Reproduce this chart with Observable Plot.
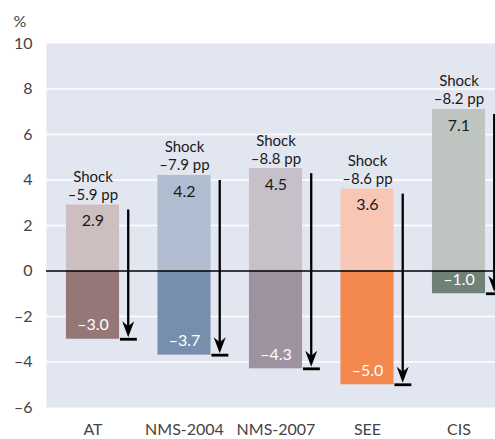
<!DOCTYPE html>
<html><head><meta charset="utf-8">
<script src="https://cdn.jsdelivr.net/npm/d3@7"></script>
<script src="https://cdn.jsdelivr.net/npm/@observablehq/plot@0.6"></script>
<style>body{margin:0;background:#fff;overflow:hidden;}</style>
</head><body><div id="chart"></div>
<script>
const categories = ["AT", "NMS-2004", "NMS-2007", "SEE", "CIS"];
const positiveValues = [2.9, 4.2, 4.5, 3.6, 7.1];
const negativeValues = [-3.0, -3.7, -4.3, -5.0, -1.0];
const shockValues = [-5.9, -7.9, -8.8, -8.6, -8.2];
const positiveColors = ["#cdbfbf", "#b0bdd0", "#c6c0c8", "#f7c6b4", "#bec4c0"];
const negativeColors = ["#957778", "#778fac", "#9d92a0", "#f2884d", "#6e8278"];
const yTicks = [-6, -4, -2, 0, 2, 4, 6, 8, 10];
const gridTicks = [-4, -2, 2, 4, 6, 8];
const unitLabel = "%";

const dash = v => (v < 0 ? "\u2013" + Math.abs(v) : String(v));
const fmt1 = v => (v < 0 ? "\u2013" + Math.abs(v).toFixed(1) : v.toFixed(1));

const data = categories.map((c, i) => ({
  i, c,
  pos: positiveValues[i], neg: negativeValues[i], shock: shockValues[i],
  posColor: positiveColors[i], negColor: negativeColors[i]
}));

const half = 0.29, arrowOff = 0.385;
const font = "Lato, 'Open Sans', sans-serif";

// filled "stealth" arrowhead pointing down, tip at origin
const stealth = {
  draw(context) {
    context.moveTo(0, 0);
    context.lineTo(-6, -16);
    context.lineTo(0, -11);
    context.lineTo(6, -16);
    context.closePath();
  }
};

const chart = Plot.plot({
  width: 495, height: 439,
  marginTop: 43, marginBottom: 32, marginLeft: 46, marginRight: 0,
  style: {fontFamily: font, fontSize: "16px", background: "white", overflow: "hidden"},
  x: {type: "linear", domain: [-0.508, 4.399]},
  y: {domain: [-6, 10]},
  color: {type: "identity"},
  marks: [
    Plot.frame({fill: "#e2e6f1", stroke: null}),
    Plot.ruleY(gridTicks, {stroke: "white", strokeWidth: 1.5}),
    Plot.rectY(data, {x1: d => d.i - half, x2: d => d.i + half, y1: 0, y2: "pos", fill: "posColor"}),
    Plot.rectY(data, {x1: d => d.i - half, x2: d => d.i + half, y1: 0, y2: "neg", fill: "negColor"}),
    Plot.ruleY([0], {stroke: "black", strokeWidth: 1.6}),
    Plot.text(data, {x: "i", y: "pos", text: d => fmt1(d.pos), dy: 16, fill: "#1a1a1a", fontSize: 16}),
    Plot.text(data, {x: "i", y: "neg", text: d => fmt1(d.neg), dy: -14, fill: "white", fontSize: 16}),
    Plot.text(data, {x: "i", y: "pos", text: d => "Shock\n" + fmt1(d.shock) + " pp", lineAnchor: "bottom", dy: -5, lineHeight: 1.2, fill: "#1a1a1a", fontSize: 15}),
    Plot.ruleX(data, {x: d => d.i + arrowOff, y1: "pos", y2: "neg", stroke: "black", strokeWidth: 2.3, insetTop: 5, insetBottom: 10}),
    Plot.dot(data, {x: d => d.i + arrowOff, y: "neg", symbol: stealth, fill: "black", stroke: null, dy: -2, r: 6}),
    Plot.ruleY(data, {y: "neg", x1: d => d.i + arrowOff - 0.085, x2: d => d.i + arrowOff + 0.1, stroke: "black", strokeWidth: 2.8}),
    Plot.axisY({ticks: yTicks, tickFormat: dash, tickSize: 0, tickPadding: 14, label: null, fontSize: 16, fill: "#444"}),
    Plot.axisX({ticks: categories.map((c, i) => i), tickFormat: i => categories[i], tickSize: 0, tickPadding: 16, label: null, fontSize: 16, fill: "#444"}),
    Plot.text([unitLabel], {frameAnchor: "top-left", textAnchor: "start", dx: -33, dy: -28, fontSize: 16, fill: "#444"})
  ]
});
document.getElementById("chart").appendChild(chart);
</script>
</body></html>
